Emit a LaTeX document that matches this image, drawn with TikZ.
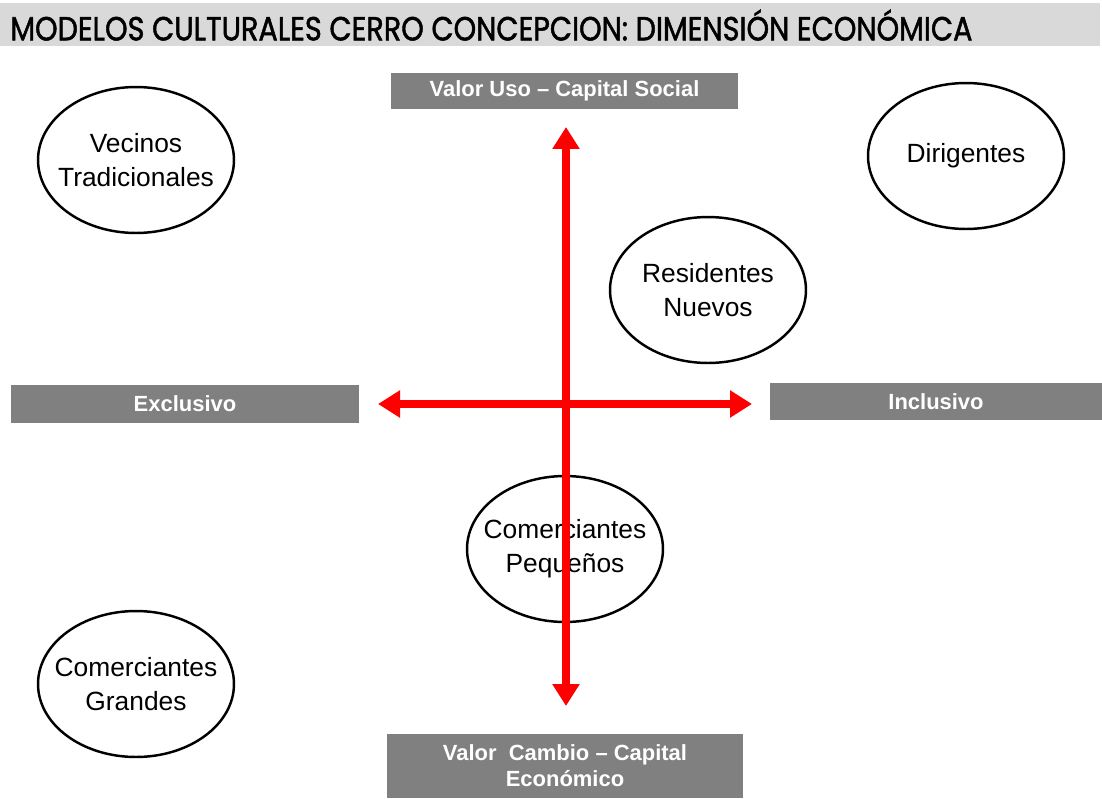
\documentclass[tikz,border=0pt]{standalone}
\usepackage{fontspec}
\setmainfont{Liberation Sans}
\newfontfamily\titlefont[FakeBold=1.6]{Poppins}
\usetikzlibrary{shapes.geometric,arrows.meta}

\definecolor{bandgrey}{HTML}{D9D9D9}
\definecolor{polegrey}{HTML}{808080}
\definecolor{axisred}{HTML}{FF0000}

\tikzset{
  grupo/.style={draw=black, line width=1.4pt, ellipse, minimum width=3.92cm, minimum height=2.92cm,
    inner xsep=-0.6cm, inner ysep=-0.2cm, align=center, font=\fontsize{15}{19.3}\selectfont},
  polo/.style={fill=polegrey, draw=none, inner sep=0pt, text=white, align=center,
    font=\fontsize{12.5}{14.7}\selectfont\bfseries},
  eje/.style={draw=axisred, line width=0.16cm, -{Triangle[width=0.52cm,length=0.44cm]}}
}

\begin{document}
\begin{tikzpicture}[x=0.02cm,y=-0.02cm]

	% Frame
	\useasboundingbox (0,0) rectangle (1102,798);

	% Title
	\fill[bandgrey] (0,3) rectangle (1100,46);
	\node (title) [anchor=west, inner sep=0pt] at (10,25)
	  {\titlefont\fontsize{19}{19}\selectfont\scalebox{0.86}[1]{MODELOS CULTURALES CERRO CONCEPCION: DIMENSIÓN ECONÓMICA}};

	% Poles
	\node (uso) [polo, minimum width=6.94cm, minimum height=0.72cm] at (564.5,91) {Valor Uso -- Capital Social};
	\node (exclusivo) [polo, minimum width=6.96cm, minimum height=0.76cm] at (185,404) {Exclusivo};
	\node (inclusivo) [polo, minimum width=6.64cm, minimum height=0.74cm] at (936,401.5) {Inclusivo};
	\node (cambio) [polo, minimum width=7.12cm, minimum height=1.28cm] at (565,766) {Valor \ Cambio -- Capital\\Económico};

	% Groups
	\node (vecinos) [grupo] at (136,160) {Vecinos\\Tradicionales};
	\node (dirigentes) [grupo] at (966,156) {Dirigentes};
	\node (residentes) [grupo] at (708,290) {Residentes\\Nuevos};
	\node (pequenos) [grupo] at (565,549) {Comerciantes\\Pequeños};
	\node (grandes) [grupo] at (136,684) {Comerciantes\\Grandes};

	% Axes
	\coordinate (center) at (566,404);
	\coordinate (ytop) at (566,127);
	\coordinate (ybot) at (566,706);
	\coordinate (xleft) at (378,404);
	\coordinate (xright) at (752,404);
	\draw[eje] (center) -- (ytop);
	\draw[eje] (center) -- (ybot);
	\draw[eje] (center) -- (xleft);
	\draw[eje] (center) -- (xright);

\end{tikzpicture}
\end{document}
